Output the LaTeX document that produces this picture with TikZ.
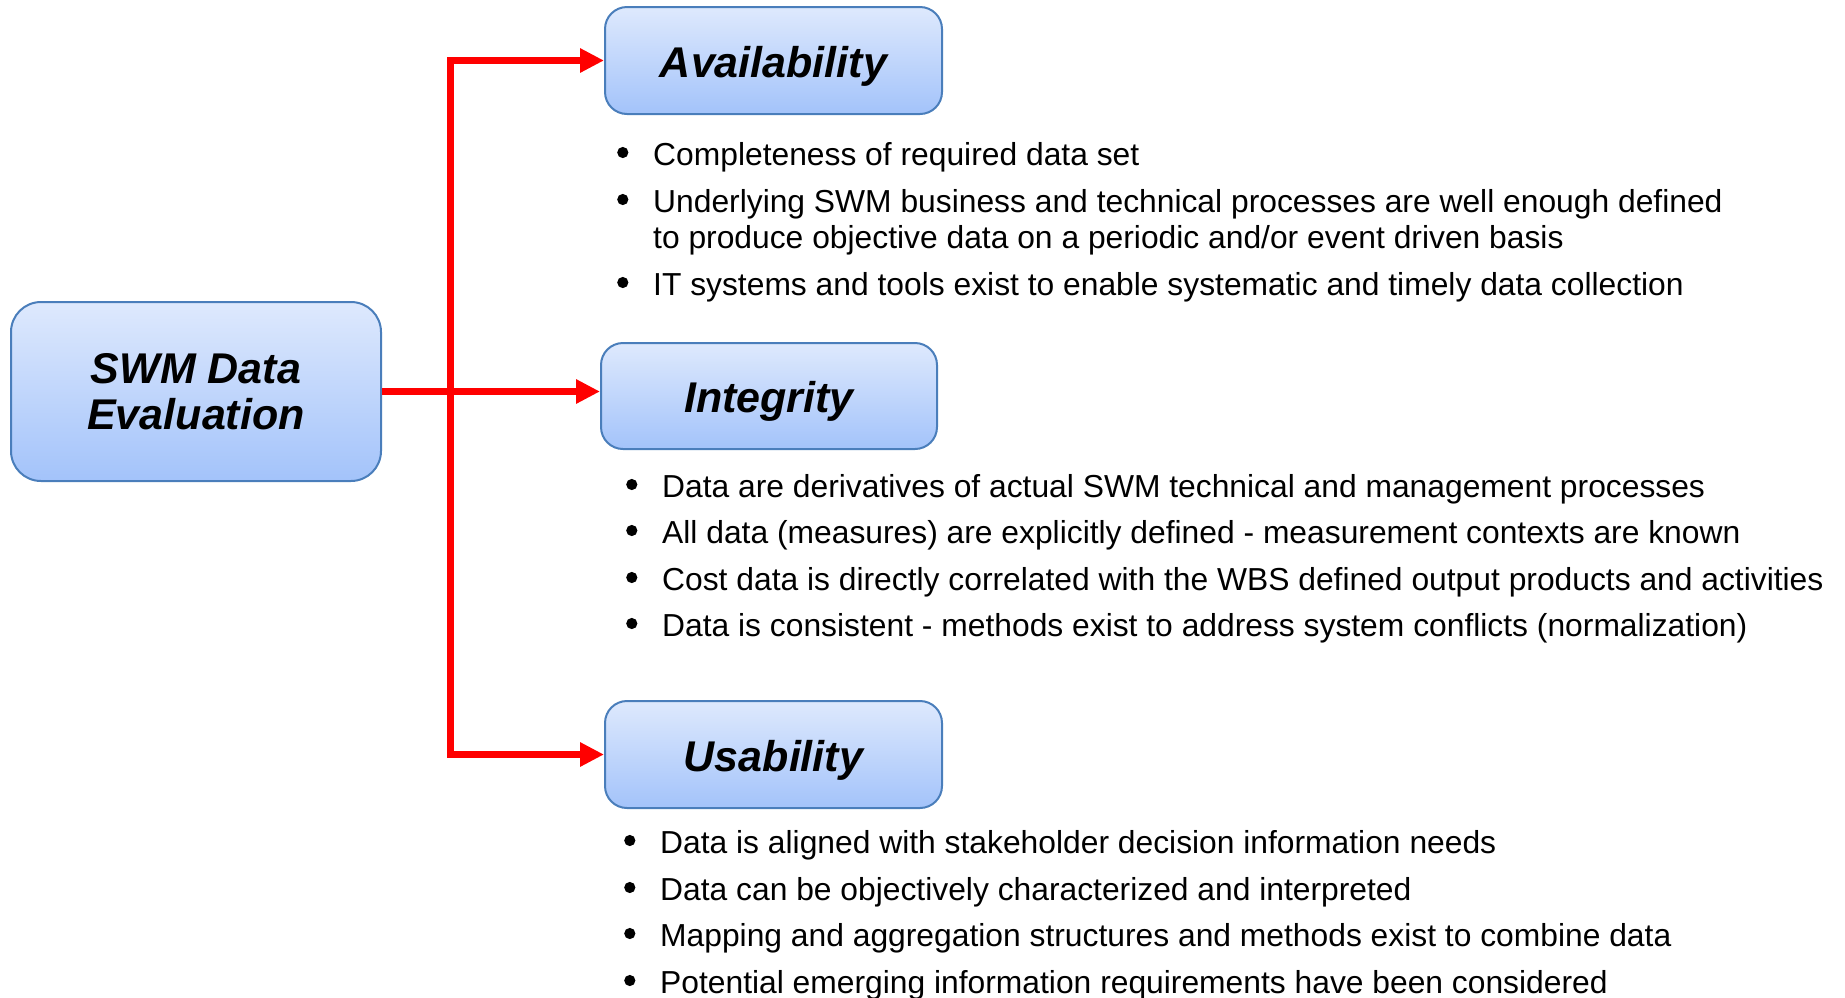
\documentclass[tikz,border=0pt]{standalone}
\usepackage{fontspec}
\setmainfont{Liberation Sans}
\usetikzlibrary{arrows.meta}
\definecolor{boxtop}{RGB}{222,233,253}
\definecolor{boxbot}{RGB}{163,195,250}
\definecolor{boxline}{RGB}{74,126,187}
\newcommand\blt{\makebox[37pt][l]{\hspace{1pt}\tikz[baseline=-12.5pt]\fill (0pt,0pt) circle (5.6pt);}}
\begin{document}
\begin{tikzpicture}[x=1pt,y=-1pt,
  hbox/.style={draw=boxline, line width=2pt, rounded corners=22pt, top color=boxtop, bottom color=boxbot,
    font=\fontsize{43}{46}\selectfont\bfseries\itshape, align=center, inner sep=0pt},
  ttlbox/.style={hbox, text height=33pt, text depth=0pt},
  item/.style={anchor=base west, inner sep=0pt, font=\fontsize{31.8}{38}\selectfont},
  link/.style={draw=red, line width=7pt, -{Triangle[length=24pt,width=23pt]}}]
\useasboundingbox (0,0) rectangle (1845,997);
% boxes
\node[hbox, minimum width=370pt, minimum height=179pt, rounded corners=30pt] (swm) at (196,391.5) {SWM Data\\Evaluation};
\node[ttlbox, minimum width=337pt, minimum height=107pt] (avail) at (773.5,60.5) {Availability};
\node[ttlbox, minimum width=336pt, minimum height=106pt] (integ) at (769,396) {Integrity};
\node[ttlbox, minimum width=337pt, minimum height=107pt] (usab) at (773.5,754.5) {Usability};
% connectors
\coordinate (j) at (450,391.5);
\draw[link] (swm.east) -- (swm.east -| integ.west);
\draw[link] (j) |- (avail.west);
\draw[link] (j) |- (usab.west);
% availability items
\node[item] (a1) at (616,165) {\blt Completeness of required data set};
\node[item] (a2) at (616,212) {\blt Underlying SWM business and technical processes are well enough defined};
\node[item] (a2b) at (653,248) {to produce objective data on a periodic and/or event driven basis};
\node[item] (a3) at (616,295) {\blt IT systems and tools exist to enable systematic and timely data collection};
% integrity items
\node[item] (i1) at (625,497) {\blt Data are derivatives of actual SWM technical and management processes};
\node[item] (i2) at (625,543) {\blt All data (measures) are explicitly defined - measurement contexts are known};
\node[item] (i3) at (625,590) {\blt Cost data is directly correlated with the WBS defined output products and activities};
\node[item] (i4) at (625,636) {\blt Data is consistent - methods exist to address system conflicts (normalization)};
% usability items
\node[item] (u1) at (623,853) {\blt Data is aligned with stakeholder decision information needs};
\node[item] (u2) at (623,900) {\blt Data can be objectively characterized and interpreted};
\node[item] (u3) at (623,946) {\blt Mapping and aggregation structures and methods exist to combine data};
\node[item] (u4) at (623,993) {\blt Potential emerging information requirements have been considered};
\end{tikzpicture}
\end{document}
